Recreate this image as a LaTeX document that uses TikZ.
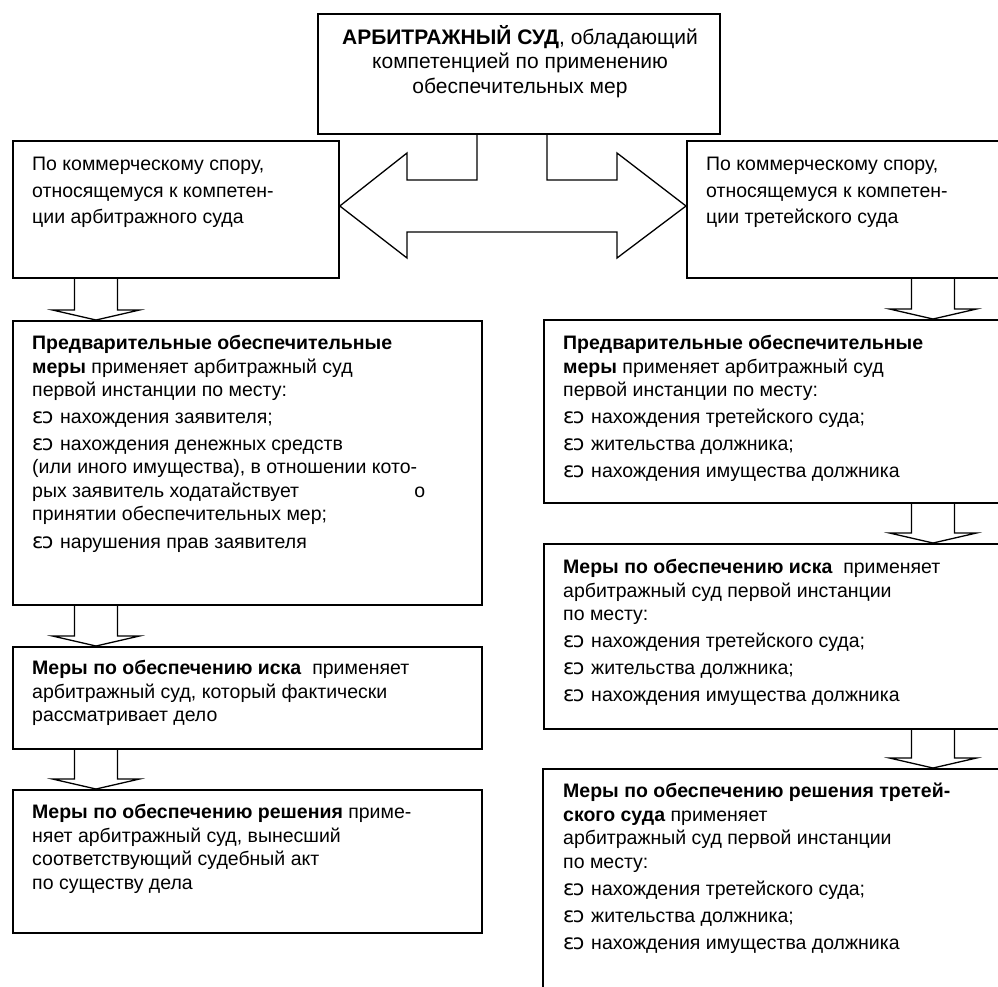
\documentclass[tikz,border=0pt]{standalone}
\usepackage{fontspec}
\setmainfont{Liberation Sans}
\newfontfamily\dejavu{DejaVu Sans}
\usetikzlibrary{calc}
\newcommand\bul{{\dejavu\fontsize{21}{21}\selectfont ɛ\kern-0.08em ɔ}\hspace{0.35em}}
\newcommand\blockdown[3]{%
 \draw[blk] ($(#1.south -| #3)+(-21.5,0)$) -- ($(#2.north -| #3)+(-21.5,-10)$)
   -- ($(#2.north -| #3)+(-43.5,-10)$) -- (#2.north -| #3)
   -- ($(#2.north -| #3)+(43.5,-10)$) -- ($(#2.north -| #3)+(21.5,-10)$)
   -- ($(#1.south -| #3)+(21.5,0)$);}
\begin{document}
\begin{tikzpicture}[x=1pt,y=-1pt,
  box/.style={draw,line width=1.8pt,rectangle,inner sep=0,anchor=north west},
  txt/.style={anchor=north west,inner sep=0,align=left,font=\fontsize{19.5}{23.5}\selectfont},
  blk/.style={draw,line width=1.3pt,line join=miter}]
\clip (0,0) rectangle (998,986);
% boxes
\node[box,minimum width=402,minimum height=120] (top) at (317,13) {};
\node[box,minimum width=326,minimum height=137] (L1) at (12,140) {};
\node[box,minimum width=340,minimum height=137] (R1) at (686,140) {};
\node[box,minimum width=469,minimum height=284] (L2) at (12,320) {};
\node[box,minimum width=469,minimum height=102] (L3) at (12,646) {};
\node[box,minimum width=469,minimum height=143] (L4) at (12,789) {};
\node[box,minimum width=480,minimum height=183] (R2) at (543,319) {};
\node[box,minimum width=480,minimum height=185] (R3) at (543,543) {};
\node[box,minimum width=480,minimum height=260] (R4) at (542,768) {};
% texts
\node[txt,anchor=north,align=center,font=\fontsize{21}{24.5}\selectfont] (ttop) at (520,25)
 {\textbf{АРБИТРАЖНЫЙ СУД}, обладающий\\компетенцией по применению\\обеспечительных мер};
\node[txt,font=\fontsize{19.5}{26.5}\selectfont] (tL1) at (32,157) {По коммерческому спору,\\относящемуся к компетен-\\ции арбитражного суда};
\node[txt,font=\fontsize{19.5}{26.5}\selectfont] (tR1) at (706,157) {По коммерческому спору,\\относящемуся к компетен-\\ции третейского суда};
\node[txt] (tL2) at (32,335) {\textbf{Предварительные обеспечительные}\\\textbf{меры} применяет арбитражный суд\\первой инстанции по месту:\\[3pt]
 \bul нахождения заявителя;\\[3.5pt]
 \bul нахождения денежных средств\\(или иного имущества), в отношении кото-\\
 \makebox[393pt][s]{рых заявитель ходатайствует\hfill о}\\принятии обеспечительных мер;\\[4pt]
 \bul нарушения прав заявителя};
\node[txt] (tR2) at (563,335) {\textbf{Предварительные обеспечительные}\\\textbf{меры} применяет арбитражный суд\\первой инстанции по месту:\\[3pt]
 \bul нахождения третейского суда;\\[3.5pt]
 \bul жительства должника;\\[3.5pt]
 \bul нахождения имущества должника};
\node[txt] (tL3) at (32,660) {\textbf{Меры по обеспечению иска}\ \ применяет\\арбитражный суд, который фактически\\рассматривает дело};
\node[txt] (tR3) at (563,559) {\textbf{Меры по обеспечению иска}\ \ применяет\\арбитражный суд первой инстанции\\по месту:\\[3.5pt]
 \bul нахождения третейского суда;\\[3.5pt]
 \bul жительства должника;\\[3.5pt]
 \bul нахождения имущества должника};
\node[txt] (tL4) at (32,804) {\textbf{Меры по обеспечению решения} приме-\\няет арбитражный суд, вынесший\\соответствующий судебный акт\\по существу дела};
\node[txt] (tR4) at (563,783) {\textbf{Меры по обеспечению решения третей-}\\\textbf{ского суда} применяет\\арбитражный суд первой инстанции\\по месту:\\[3.5pt]
 \bul нахождения третейского суда;\\[3.5pt]
 \bul жительства должника;\\[3.5pt]
 \bul нахождения имущества должника};
% double arrow
\coordinate (s1) at (477,180);
\coordinate (s2) at (547,180);
\draw[blk] (s1 |- top.south) -- (s1) -- (407,180) -- (407,153) -- (L1.east |- 0,206)
  -- (407,258) -- (407,232) -- (617,232) -- (617,258) -- (R1.west |- 0,206)
  -- (617,153) -- (617,180) -- (s2) -- (s2 |- top.south);
% down arrows
\coordinate (cl) at (96,0);
\coordinate (cr) at (933,0);
\blockdown{L1}{L2}{cl}
\blockdown{L2}{L3}{cl}
\blockdown{L3}{L4}{cl}
\blockdown{R1}{R2}{cr}
\blockdown{R2}{R3}{cr}
\blockdown{R3}{R4}{cr}
\end{tikzpicture}
\end{document}
